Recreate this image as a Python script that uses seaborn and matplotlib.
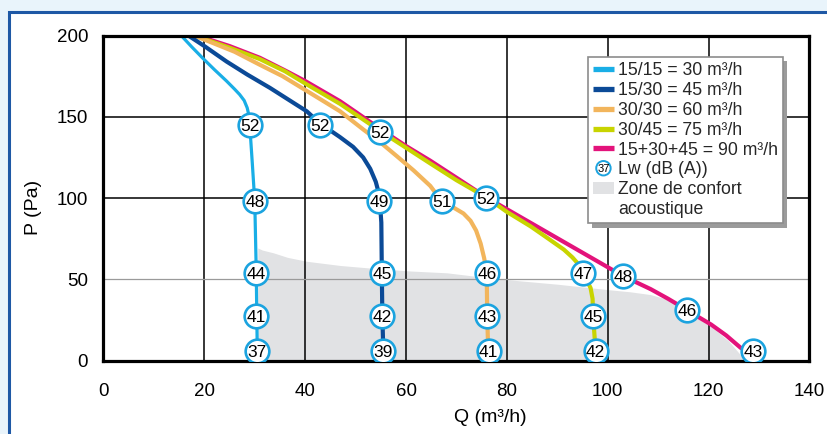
import matplotlib
matplotlib.use("Agg")
import matplotlib.pyplot as plt
import seaborn as sns
import pandas as pd
from matplotlib.legend_handler import HandlerBase
from matplotlib.patches import Circle, Rectangle, Patch
from matplotlib.lines import Line2D
from matplotlib.text import Text

# ---------------- data ----------------
series_names = ["15/15 = 30 m³/h", "15/30 = 45 m³/h", "30/30 = 60 m³/h",
                "30/45 = 75 m³/h", "15+30+45 = 90 m³/h"]
series_colors = ["#19AEE6", "#0B4A97", "#F2B55C", "#C8D400", "#E3137B"]

q_15_15 = [15.4, 17.5, 19.7, 22.0, 24.4, 26.0, 27.0, 27.9, 28.5, 28.9, 29.0, 29.5, 30.0, 30.3, 30.4, 30.5]
p_15_15 = [200, 193, 186, 179, 172, 167, 163.7, 160, 155.5, 150, 145, 122, 98, 54, 27.7, 5.7]

q_15_30 = [16.8, 20.0, 24.4, 28.5, 33.0, 36.7, 40.3, 42.9, 46.9, 49.5, 51.5, 52.9, 54.0, 54.6, 54.8, 55.1, 55.2, 55.3, 55.5]
p_15_30 = [200, 193.5, 184, 176, 167.8, 160.5, 153.4, 146, 137.5, 131.5, 125, 118, 110, 103, 98, 85, 54, 27.7, 5.7]

q_30_30 = [18.0, 22.0, 26.0, 31.0, 35.5, 40.0, 46.9, 51.6, 55.0, 58.2, 61.5, 64.8, 67.1, 69.5, 71.4, 72.8, 73.9, 74.8, 75.5, 76.0, 76.1, 76.3]
p_30_30 = [200, 195, 190, 182, 175, 166.5, 153.4, 142, 134, 125.7, 117, 107.5, 98, 94, 90.5, 86, 80, 72, 63, 54, 27.7, 5.7]

q_30_45 = [18.0, 25.0, 31.0, 36.0, 40.0, 46.9, 54.9, 64.8, 70.0, 76.1, 80.0, 84.7, 88.0, 91.3, 93.0, 94.0, 95.0, 95.9, 96.6, 97.0, 97.1, 97.6]
p_30_45 = [200, 192.5, 185.5, 178, 170.5, 158, 141.2, 121.3, 111, 100.1, 91.5, 82.6, 75.5, 68.3, 63.5, 60, 54, 49, 44.7, 38, 27.7, 5.7]

q_90 = [18.5, 25.0, 31.0, 36.0, 40.0, 46.9, 50.0, 54.9, 60.0, 64.8, 70.0, 76.1, 89.5, 102.9, 105.5, 108.5, 112.0, 115.8, 118.0, 120.5, 123.5, 126.4, 128.8]
p_90 = [200, 193.5, 186.3, 178.5, 172, 159.6, 153, 142.5, 132, 123, 112.5, 100.1, 76.2, 52.3, 48.4, 44.0, 38.0, 31, 26.8, 22.2, 15.5, 7.8, 5.7]

# sound power labels (Lw dB(A)) along the curves
lw_q = [29.0, 30.0, 30.3, 30.3, 30.5,
        42.9, 54.7, 55.2, 55.2, 55.5,
        54.9, 67.1, 76.1, 76.1, 76.4,
        75.9, 95.1, 97.1, 97.6,
        103.0, 115.8, 128.8]
lw_p = [145, 98, 54, 27.7, 5.7,
        145, 98, 54, 27.7, 5.7,
        140.7, 98, 54, 27.7, 5.7,
        100.3, 54, 27.7, 5.7,
        52.3, 31, 5.7]
lw_val = [52, 48, 44, 41, 37,
          52, 49, 45, 42, 39,
          52, 51, 46, 43, 41,
          52, 47, 45, 42,
          48, 46, 43]

# acoustic comfort zone (upper boundary)
zone_q = [30.6, 31.5, 33.7, 36.5, 40.3, 47.0, 54.9, 61.0, 68.1, 74.0, 80.0, 90.0, 99.9, 104.5, 108.5, 111.5, 113.8, 116.5, 120.5, 124.0, 127.3]
zone_p = [69.3, 68.0, 66.3, 63.5, 61.1, 58.5, 56.4, 55.1, 54.0, 51.8, 49.8, 47.0, 43.7, 42.3, 40.6, 38.0, 34.5, 28.5, 21.0, 12.0, 0.0]

x_ticks = [0, 20, 40, 60, 80, 100, 120, 140]
y_ticks = [0, 50, 100, 150, 200]

# ---------------- style ----------------
sns.set_theme(style="white")
plt.rcParams["font.family"] = ["Liberation Sans", "DejaVu Sans"]

W, H = 828, 434
fig = plt.figure(figsize=(W / 100, H / 100), dpi=100)
fig.patch.set_facecolor("#E9F4FB")
panel_top = 1 - 11.5 / H
panel = Rectangle((9 / W, -0.05), 1.05, panel_top + 0.05, transform=fig.transFigure,
                  facecolor="white", edgecolor="#1E58A5", lw=2.2, zorder=-10)
fig.patches.append(panel)

ax = fig.add_axes([103.5 / W, 1 - 360.6 / H, 705.9 / W, 325.1 / H])
ax.set_facecolor("white")

zone_color = "#E1E2E4"
ax.fill_between(zone_q, zone_p, 0, color=zone_color, lw=0, zorder=0.5)

curves = [(q_90, p_90, 4), (q_30_45, p_30_45, 3), (q_30_30, p_30_30, 2),
          (q_15_30, p_15_30, 1), (q_15_15, p_15_15, 0)]
widths = [2.3, 3.0, 3.0, 3.0, 3.0]
for q, p, i in curves:
    df = pd.DataFrame({"Q": q, "P": p})
    sns.lineplot(data=df, x="Q", y="P", sort=False, estimator=None, color=series_colors[i],
                 lw=widths[i], ax=ax, legend=False, zorder=2 + (4 - i) * 0.01)

mk_edge = "#1BA3DF"
sns.scatterplot(x=lw_q, y=lw_p, s=290, color="white", edgecolor=mk_edge, linewidth=1.9,
                ax=ax, legend=False, zorder=5)
for q, p, v in zip(lw_q, lw_p, lw_val):
    ax.text(q, p, str(v), ha="center", va="center_baseline", fontsize=12.5, color="black", zorder=6)

ax.set_xlim(0, 140)
ax.set_ylim(0, 200)
ax.set_xticks(x_ticks)
ax.set_yticks(y_ticks)
ax.set_axisbelow("line")
ax.grid(True, color="black", lw=1.1)
ax.yaxis.get_gridlines()[1].set_color("#9a9a9a")
ax.yaxis.get_gridlines()[1].set_linewidth(0.9)
for s in ax.spines.values():
    s.set_color("black")
    s.set_linewidth(2.3)
ax.tick_params(axis="both", length=0, labelsize=13.5, colors="black")
ax.tick_params(axis="y", pad=11)
ax.tick_params(axis="x", pad=16)

ax.set_xlabel("Q (m³/h)", fontsize=14, color="black")
ax.xaxis.label.set_va("center")
ax.xaxis.set_label_coords((490 - 103.5) / 705.9, (360.6 - 418) / 325.1)
ax.set_ylabel("P (Pa)", fontsize=14, color="black")
ax.yaxis.label.set_va("center")
ax.yaxis.set_label_coords((33.5 - 103.5) / 705.9, (360.6 - 207) / 325.1)


class HandlerNumCircle(HandlerBase):
    def create_artists(self, legend, orig_handle, xdescent, ydescent, width, height, fontsize, trans):
        cx = 0.5 * width - xdescent
        cy = 0.5 * height - ydescent
        c = Circle((cx, cy), radius=5.2, facecolor="white", edgecolor=mk_edge, lw=1.4, transform=trans)
        t = Text(cx, cy, "37", ha="center", va="center_baseline", fontsize=8, color="black",
                 transform=trans)
        return [c, t]


line_handles = [Line2D([], [], color=c, lw=3.8, solid_capstyle="butt") for c in series_colors]
lw_handle = Line2D([], [])
zone_handle = Patch(facecolor=zone_color, edgecolor="none")
blank_handle = Patch(facecolor="none", edgecolor="none")
leg = ax.legend(line_handles + [lw_handle, zone_handle, blank_handle],
                series_names + ["Lw (dB (A))", "Zone de confort", "acoustique"],
                handler_map={lw_handle: HandlerNumCircle()},
                loc="upper left", bbox_to_anchor=(588 / W, 1 - 57 / H), bbox_transform=fig.transFigure,
                borderaxespad=0, fontsize=12.7, frameon=True, fancybox=False, framealpha=1,
                edgecolor="#8c8c8c", facecolor="white", handlelength=1.15, handleheight=0.7,
                handletextpad=0.25, labelspacing=0.16, borderpad=0.3,
                shadow={"ox": 3, "oy": -3, "facecolor": "#9b9b9b", "edgecolor": "none", "alpha": 1})
leg.get_frame().set_linewidth(1.2)
leg.set_zorder(10)

fig.savefig("out.png", dpi=100, facecolor=fig.get_facecolor())
